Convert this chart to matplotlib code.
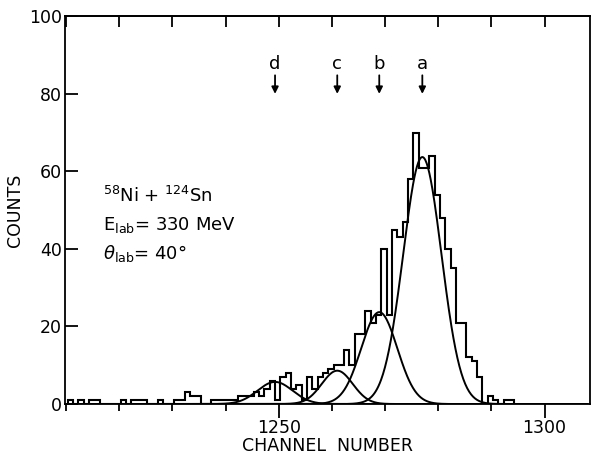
import numpy as np
import matplotlib
matplotlib.use("Agg")
import matplotlib.pyplot as plt

# histogram counts per channel, starting at channel 1210
first_channel = 1210
counts = [1, 0, 1, 0, 1, 1, 0, 0, 0, 0,      # 1210-1219
          1, 0, 1, 1, 1, 0, 0, 1, 0, 0,      # 1220-1229
          1, 1, 3, 2, 2, 0, 0, 1, 1, 1,      # 1230-1239
          1, 1, 2, 2, 2, 3, 2, 4, 6, 1,      # 1240-1249
          7, 8, 4, 5, 1, 7, 4, 7, 8, 9,      # 1250-1259
          10, 10, 14, 10, 18, 18, 24, 21, 23, 40,  # 1260-1269
          23, 45, 43, 47, 58, 70, 61, 61, 64, 54,  # 1270-1279
          48, 40, 35, 21, 21, 12, 11, 7, 0, 2,     # 1280-1289
          1, 0, 1, 1]                              # 1290-1293

# fitted gaussian components
peak_labels = ['d', 'c', 'b', 'a']
peak_centres = [1249.3, 1261.0, 1268.9, 1277.0]
peak_heights = [5.7, 8.6, 23.7, 63.7]
peak_sigmas = [3.3, 2.9, 3.4, 3.6]

edges = first_channel + 0.3 + np.arange(len(counts) + 1)

fig = plt.figure(figsize=(5.91, 4.61), dpi=100)
ax = fig.add_axes([0.110, 0.1236, 0.888, 0.841])

ax.stairs(counts, edges, baseline=0, color='black', lw=1.5)

xs = np.linspace(1210, 1308, 800)
for mu, h, s in zip(peak_centres, peak_heights, peak_sigmas):
    ax.plot(xs, h * np.exp(-0.5 * ((xs - mu) / s) ** 2), color='black', lw=1.4)

for lab, mu in zip(peak_labels, peak_centres):
    ax.annotate(lab, xy=(mu, 80), xytext=(mu, 85.5), ha='center', va='bottom',
                fontsize=13,
                arrowprops=dict(arrowstyle='-|>', color='black', lw=1.3,
                                mutation_scale=10, shrinkA=0, shrinkB=0))

ax.text(1217, 52, r'$^{58}$Ni + $^{124}$Sn', fontsize=13)
ax.text(1217, 45, r'E$_{\rm lab}$= 330 MeV', fontsize=13)
ax.text(1217, 37.5, r'$\theta_{\rm lab}$= 40$\degree$', fontsize=13)

ax.set_xlim(1209.8, 1308.5)
ax.set_ylim(0, 100)
ax.set_xticks([1250, 1300])
ax.set_xticks(np.arange(1210, 1310, 10), minor=True)
ax.set_yticks(np.arange(0, 101, 20))
ax.tick_params(axis='x', which='major', direction='out', length=10, width=1.3,
               labelsize=12.5, pad=1)
ax.tick_params(axis='x', which='minor', direction='out', length=5, width=1.3)
ax.tick_params(axis='y', direction='in', length=9, width=1.3, labelsize=12.5,
               pad=2)

top = ax.secondary_xaxis('top')
top.set_xticks(np.arange(1210, 1310, 10))
top.tick_params(direction='in', length=8, width=1.3, labeltop=False)
top.spines['top'].set_linewidth(1.3)

for sp in ax.spines.values():
    sp.set_linewidth(1.3)

ax.set_xlabel('CHANNEL  NUMBER', fontsize=12.5, labelpad=0)
ax.set_ylabel('COUNTS', fontsize=12.5, labelpad=4)

fig.savefig('out.png', dpi=100)
